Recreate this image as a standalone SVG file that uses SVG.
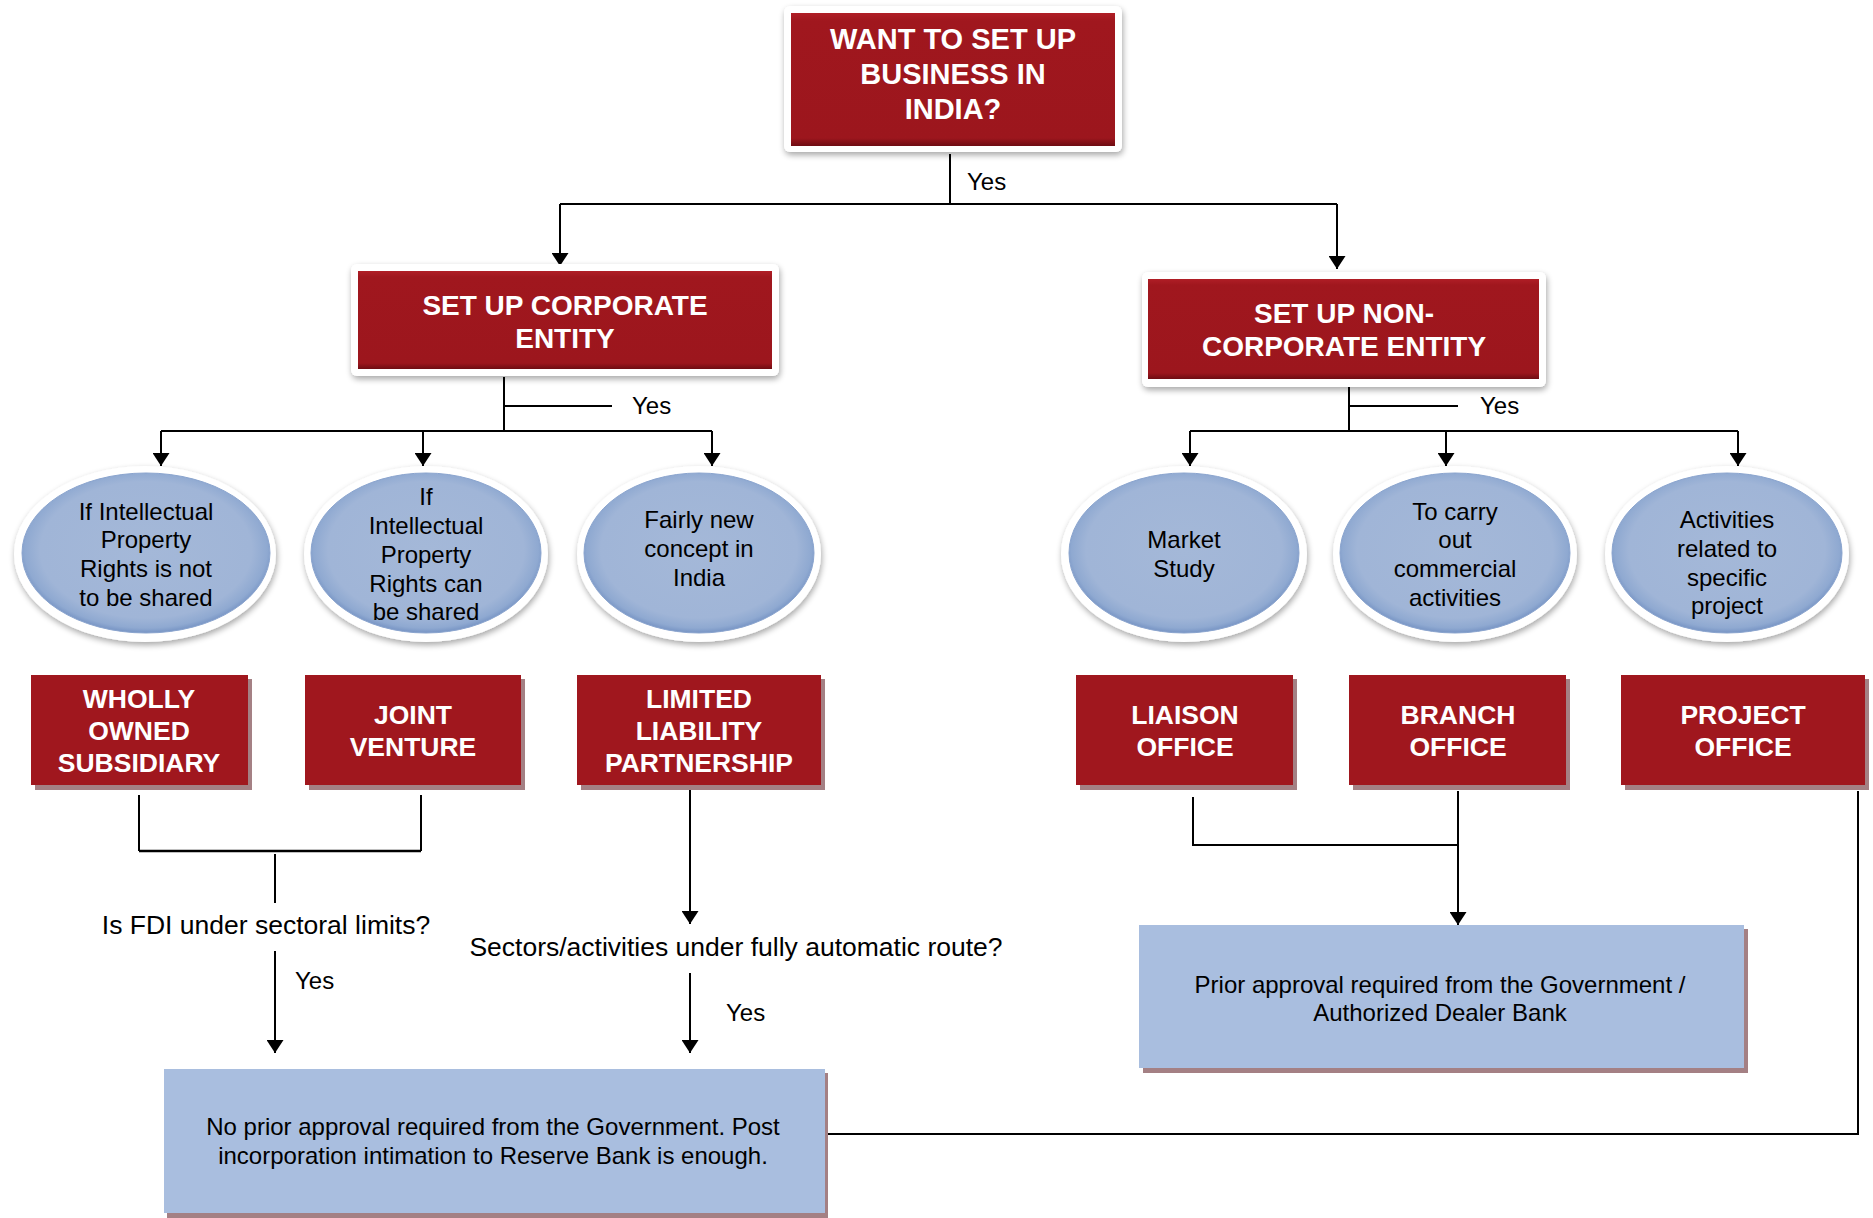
<svg xmlns="http://www.w3.org/2000/svg" width="1873" height="1218" viewBox="0 0 1873 1218">
<defs>
<style>
.hd{font-family:"Liberation Sans",Arial,sans-serif;font-weight:bold;fill:#fff;text-anchor:middle}
.h1{font-size:29px}
.h2{font-size:28px}
.h3{font-size:26.5px}
.tx{font-family:"Liberation Sans",Arial,sans-serif;font-size:24px;fill:#000;text-anchor:middle}
.q{font-family:"Liberation Sans",Arial,sans-serif;font-size:26.5px;fill:#000;text-anchor:middle}
.lb{font-family:"Liberation Sans",Arial,sans-serif;font-size:24px;fill:#000}
.red{fill:#A0171E}
.frame{fill:#fff;filter:url(#sh)}
.ring{fill:#fff;filter:url(#sh)}
.ell{fill:url(#eg);stroke:#8AA4CE;stroke-width:1}
.blue{fill:#A9BEDF}
.shd{fill:#A48084}
.ln{stroke:#000;stroke-width:2;fill:none}
.ar{stroke:#000;stroke-width:2;fill:none;marker-end:url(#ah)}
</style>
<filter id="sh" x="-10%" y="-10%" width="125%" height="130%">
<feGaussianBlur in="SourceAlpha" stdDeviation="3"/>
<feOffset dx="1" dy="3" result="b"/>
<feComponentTransfer><feFuncA type="linear" slope="0.35"/></feComponentTransfer>
<feMerge><feMergeNode/><feMergeNode in="SourceGraphic"/></feMerge>
</filter>
<radialGradient id="eg" cx="50%" cy="48%" r="52%">
<stop offset="0%" stop-color="#A4B8D8"/>
<stop offset="82%" stop-color="#A0B5D7"/>
<stop offset="94%" stop-color="#8FA9D1"/>
<stop offset="100%" stop-color="#7794C4"/>
</radialGradient>
<linearGradient id="rg" x1="0" y1="0" x2="0" y2="1">
<stop offset="0" stop-color="#B01E26"/>
<stop offset="0.06" stop-color="#A0171E"/>
<stop offset="0.94" stop-color="#9C161D"/>
<stop offset="1" stop-color="#6E0C12"/>
</linearGradient>
<marker id="ah" markerWidth="13" markerHeight="17" refX="13" refY="8.5" orient="auto" markerUnits="userSpaceOnUse">
<path d="M0,0 L13,8.5 L0,17 Z" fill="#000"/>
</marker>
</defs>

<g id="connectors">
<path class="ln" d="M950,154 V204 M560,204 H1337"/>
<path class="ar" d="M560,204 V266"/>
<path class="ar" d="M1337,204 V269"/>
<path class="ln" d="M504,377 V431 M504,406 H612 M161,431 H712"/>
<path class="ar" d="M161,431 V466"/>
<path class="ar" d="M423,431 V466"/>
<path class="ar" d="M712,431 V466"/>
<path class="ln" d="M1349,387 V431 M1349,406 H1458 M1190,431 H1738"/>
<path class="ar" d="M1190,431 V466"/>
<path class="ar" d="M1446,431 V466"/>
<path class="ar" d="M1738,431 V466"/>
<path class="ln" d="M139,795 V851 M421,795 V851"/>
<path d="M139,851 H421" stroke="#000" stroke-width="2.5" fill="none"/>
<path class="ln" d="M275,854 V903"/>
<path class="ar" d="M275,951 V1053"/>
<path class="ar" d="M690,790 V924"/>
<path class="ar" d="M690,973 V1053"/>
<path class="ln" d="M1193,797 V845 H1458"/>
<path class="ar" d="M1458,791 V925"/>
<path class="ln" d="M1858,791 V1134 H825"/>
<text class="lb" x="967" y="190">Yes</text>
<text class="lb" x="632" y="414">Yes</text>
<text class="lb" x="1480" y="414">Yes</text>
<text class="q" x="266" y="934">Is FDI under sectoral limits?</text>
<text class="lb" x="295" y="989">Yes</text>
<text class="q" x="736" y="956">Sectors/activities under fully automatic route?</text>
<text class="lb" x="726" y="1021">Yes</text>
</g>

<g id="n-start">
<rect class="frame" x="784" y="6" width="338" height="146" rx="6"/>
<rect x="791" y="13" width="324" height="133" fill="url(#rg)"/>
<text class="hd h1" x="953" y="49">WANT TO SET UP</text>
<text class="hd h1" x="953" y="84">BUSINESS IN</text>
<text class="hd h1" x="953" y="119">INDIA?</text>
</g>

<g id="n-corporate">
<rect class="frame" x="351" y="264" width="428" height="112" rx="6"/>
<rect x="358" y="271" width="414" height="98" fill="url(#rg)"/>
<text class="hd h2" x="565" y="315">SET UP CORPORATE</text>
<text class="hd h2" x="565" y="348">ENTITY</text>
</g>

<g id="n-noncorporate">
<rect class="frame" x="1142" y="272" width="404" height="115" rx="6"/>
<rect x="1148" y="279" width="391" height="100" fill="url(#rg)"/>
<text class="hd h2" x="1344" y="323">SET UP NON-</text>
<text class="hd h2" x="1344" y="356">CORPORATE ENTITY</text>
</g>

<g id="n-ipr-not">
<ellipse class="ring" cx="145" cy="554" rx="131" ry="88"/>
<ellipse class="ell" cx="146" cy="553" rx="124" ry="80"/>
<text class="tx" x="146" y="520">If Intellectual</text>
<text class="tx" x="146" y="548">Property</text>
<text class="tx" x="146" y="577">Rights is not</text>
<text class="tx" x="146" y="606">to be shared</text>
</g>

<g id="n-ipr-can">
<ellipse class="ring" cx="426" cy="554" rx="122" ry="88"/>
<ellipse class="ell" cx="426" cy="553" rx="115" ry="80"/>
<text class="tx" x="426" y="505">If</text>
<text class="tx" x="426" y="534">Intellectual</text>
<text class="tx" x="426" y="563">Property</text>
<text class="tx" x="426" y="592">Rights can</text>
<text class="tx" x="426" y="620">be shared</text>
</g>

<g id="n-new-concept">
<ellipse class="ring" cx="699" cy="554" rx="122" ry="88"/>
<ellipse class="ell" cx="699" cy="553" rx="115" ry="80"/>
<text class="tx" x="699" y="528">Fairly new</text>
<text class="tx" x="699" y="557">concept in</text>
<text class="tx" x="699" y="586">India</text>
</g>

<g id="n-market">
<ellipse class="ring" cx="1184" cy="554" rx="123" ry="88"/>
<ellipse class="ell" cx="1184" cy="553" rx="115" ry="80"/>
<text class="tx" x="1184" y="548">Market</text>
<text class="tx" x="1184" y="577">Study</text>
</g>

<g id="n-commercial">
<ellipse class="ring" cx="1455" cy="554" rx="122" ry="88"/>
<ellipse class="ell" cx="1455" cy="553" rx="115" ry="80"/>
<text class="tx" x="1455" y="520">To carry</text>
<text class="tx" x="1455" y="548">out</text>
<text class="tx" x="1455" y="577">commercial</text>
<text class="tx" x="1455" y="606">activities</text>
</g>

<g id="n-project-act">
<ellipse class="ring" cx="1727" cy="554" rx="122" ry="88"/>
<ellipse class="ell" cx="1727" cy="553" rx="115" ry="80"/>
<text class="tx" x="1727" y="528">Activities</text>
<text class="tx" x="1727" y="557">related to</text>
<text class="tx" x="1727" y="586">specific</text>
<text class="tx" x="1727" y="614">project</text>
</g>

<g id="n-wos">
<rect class="shd" x="35" y="679" width="217" height="111"/>
<rect class="red" x="31" y="675" width="217" height="110"/>
<text class="hd h3" x="139" y="708">WHOLLY</text>
<text class="hd h3" x="139" y="740">OWNED</text>
<text class="hd h3" x="139" y="772">SUBSIDIARY</text>
</g>

<g id="n-jv">
<rect class="shd" x="309" y="679" width="216" height="111"/>
<rect class="red" x="305" y="675" width="216" height="110"/>
<text class="hd h3" x="413" y="724">JOINT</text>
<text class="hd h3" x="413" y="756">VENTURE</text>
</g>

<g id="n-llp">
<rect class="shd" x="581" y="679" width="244" height="111"/>
<rect class="red" x="577" y="675" width="244" height="110"/>
<text class="hd h3" x="699" y="708">LIMITED</text>
<text class="hd h3" x="699" y="740">LIABILITY</text>
<text class="hd h3" x="699" y="772">PARTNERSHIP</text>
</g>

<g id="n-liaison">
<rect class="shd" x="1080" y="679" width="217" height="111"/>
<rect class="red" x="1076" y="675" width="217" height="110"/>
<text class="hd h3" x="1185" y="724">LIAISON</text>
<text class="hd h3" x="1185" y="756">OFFICE</text>
</g>

<g id="n-branch">
<rect class="shd" x="1353" y="679" width="217" height="111"/>
<rect class="red" x="1349" y="675" width="217" height="110"/>
<text class="hd h3" x="1458" y="724">BRANCH</text>
<text class="hd h3" x="1458" y="756">OFFICE</text>
</g>

<g id="n-project">
<rect class="shd" x="1625" y="679" width="244" height="111"/>
<rect class="red" x="1621" y="675" width="244" height="110"/>
<text class="hd h3" x="1743" y="724">PROJECT</text>
<text class="hd h3" x="1743" y="756">OFFICE</text>
</g>

<g id="n-prior">
<rect class="shd" x="1143" y="929" width="605" height="144"/>
<rect class="blue" x="1139" y="925" width="605" height="143"/>
<text class="tx" x="1440" y="993">Prior approval required from the Government /</text>
<text class="tx" x="1440" y="1021">Authorized Dealer Bank</text>
</g>

<g id="n-noprior">
<rect class="shd" x="167" y="1073" width="661" height="145"/>
<rect class="blue" x="164" y="1069" width="661" height="144"/>
<text class="tx" x="493" y="1135">No prior approval required from the Government. Post</text>
<text class="tx" x="493" y="1164">incorporation intimation to Reserve Bank is enough.</text>
</g>
</svg>
